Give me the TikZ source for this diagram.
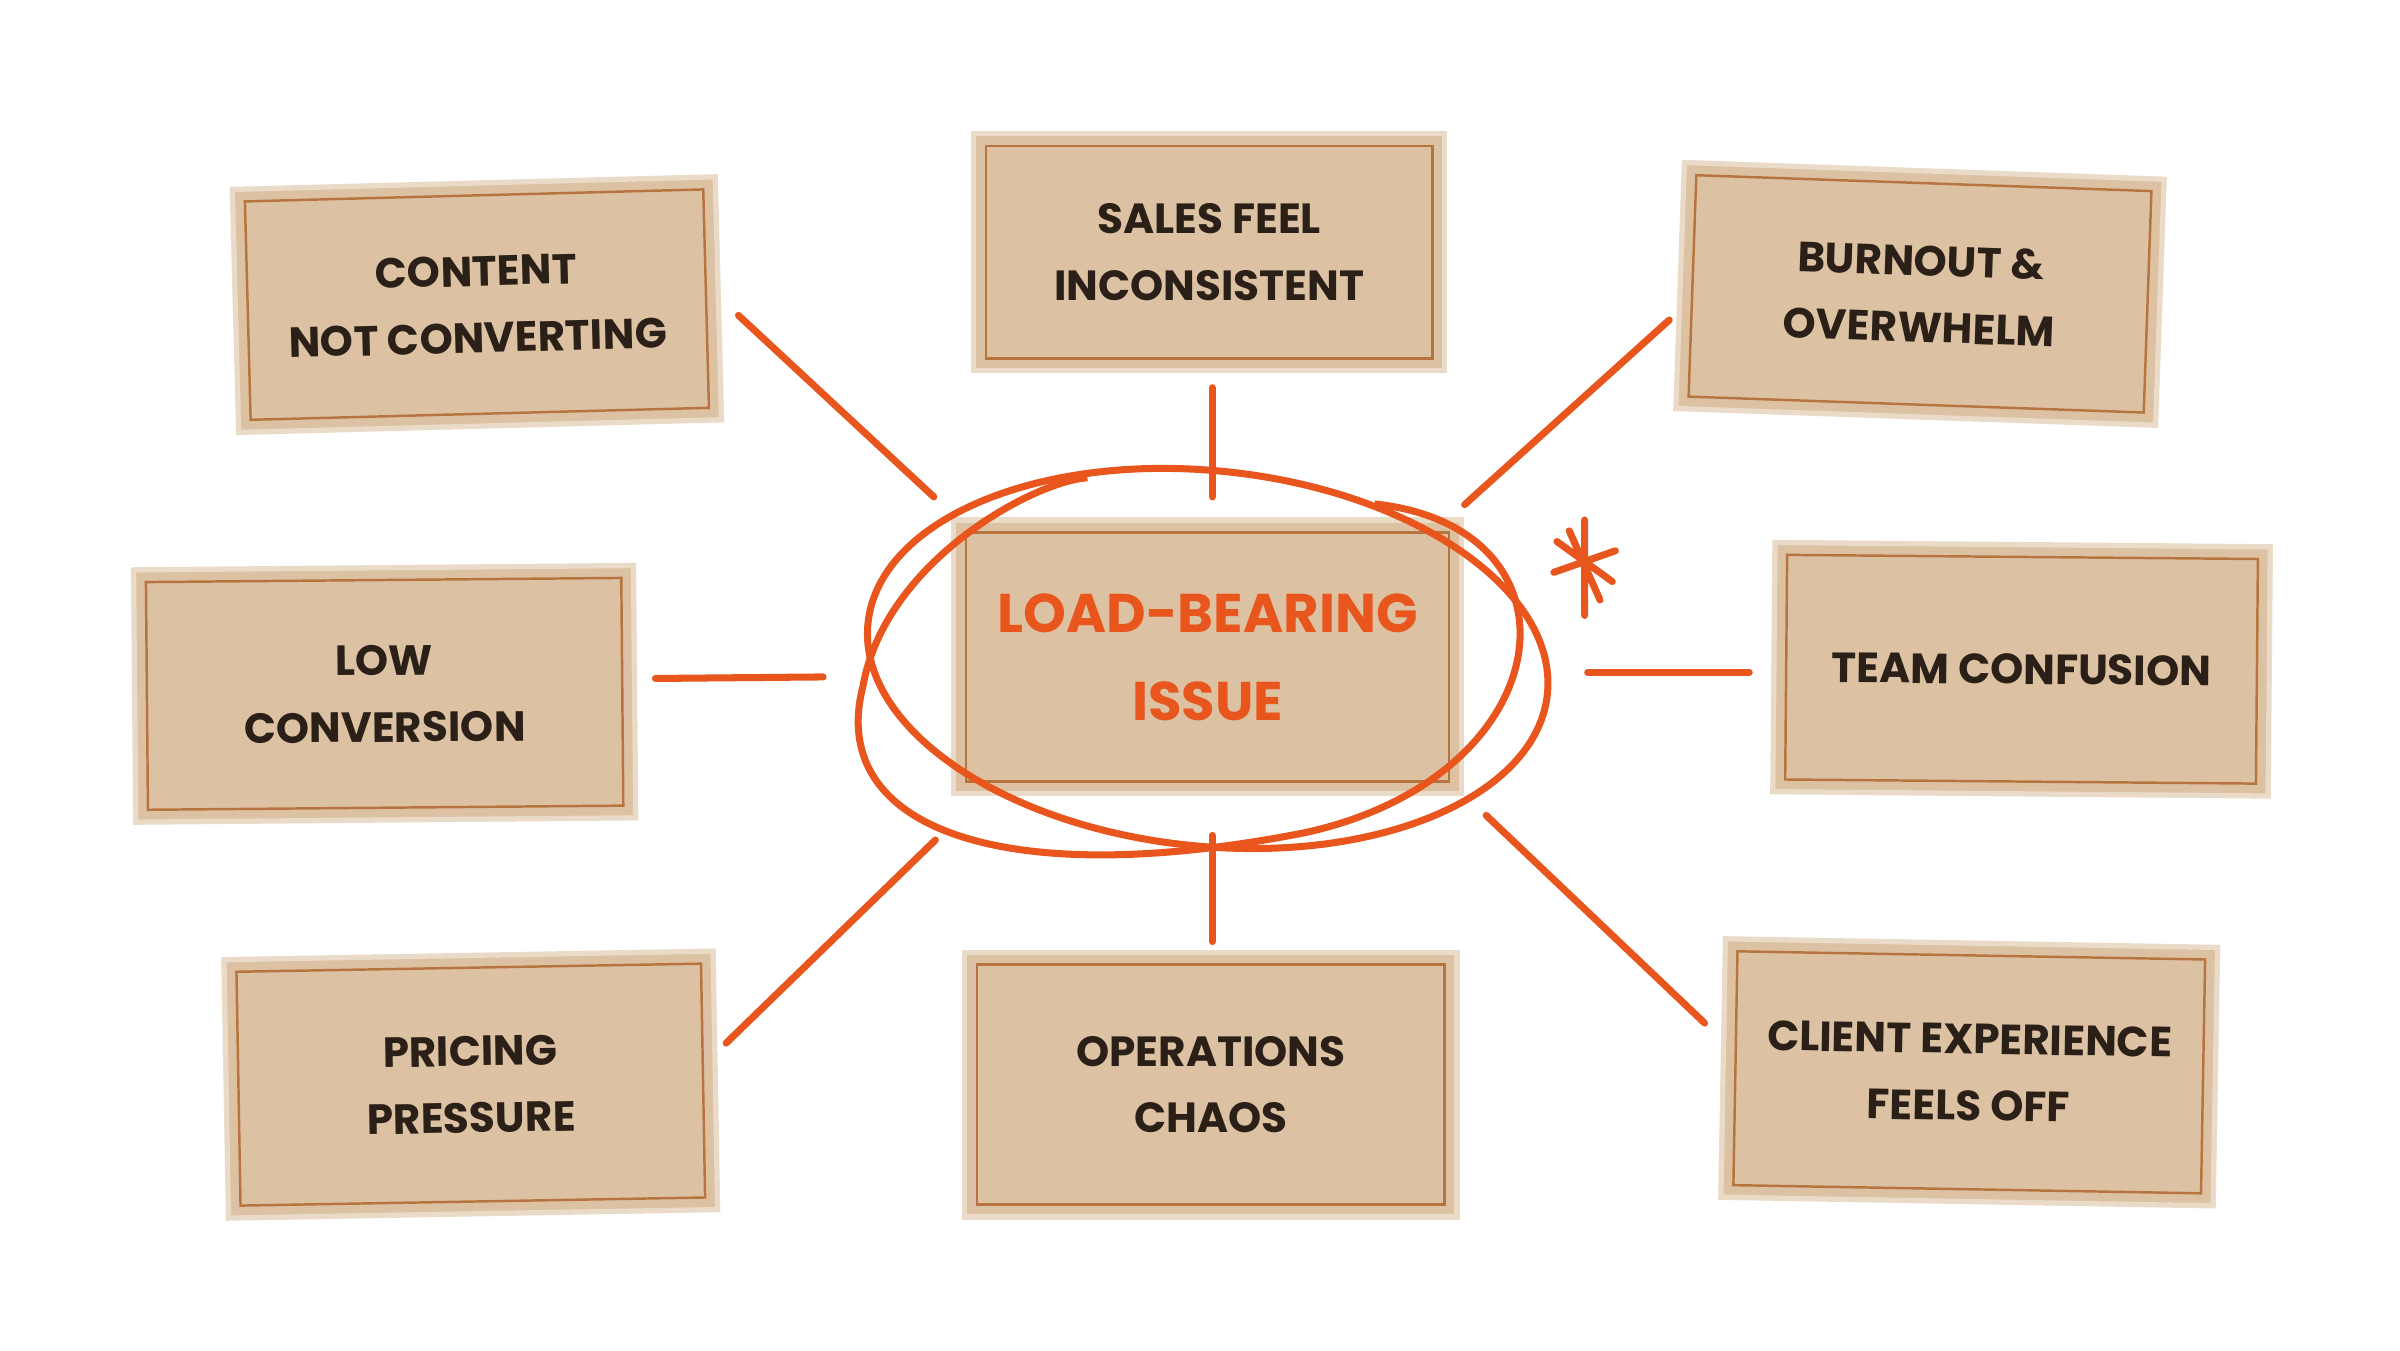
\documentclass[tikz,border=0pt]{standalone}
\usepackage{fontspec}
\setmainfont{Poppins}
\definecolor{card}{HTML}{DCC2A3}
\definecolor{edge}{HTML}{B8743E}
\definecolor{org}{HTML}{E8561E}
\definecolor{ink}{HTML}{2A2018}
\newcommand{\mycard}[7][]{%
 \node[card,minimum width=#4*0.01538cm,minimum height=#5*0.01538cm,rotate=#6,#1] (#2) at #3 {#7};
 \node[inner,minimum width=#4*0.01538cm-7pt,minimum height=#5*0.01538cm-7pt,rotate=#6] at (#2.center) {};}
\begin{document}
\begin{tikzpicture}[x=0.01538cm,y=-0.01538cm]
\tikzset{
 card/.style={draw=card!60!white,line width=1.5pt,fill=card,align=center,inner sep=0pt,
   font=\bfseries\fontsize{12}{19}\selectfont,text=ink},
 inner/.style={draw=edge,line width=0.7pt,inner sep=0pt},
 link/.style={draw=org,line width=2pt,line cap=round}
}
\useasboundingbox (0,0) rectangle (1560,877.5);
\mycard{a}{(310,198)}{314}{158}{1.5}{CONTENT\\NOT CONVERTING}
\mycard{b}{(786,164)}{306}{154}{0}{SALES FEEL\\INCONSISTENT}
\mycard{c}{(1248,191)}{312}{160}{-2}{BURNOUT \&\\OVERWHELM}
\mycard{d}{(250,451)}{325}{164}{0.5}{LOW\\CONVERSION}
\mycard[text=org,font=\bfseries\fontsize{15.5}{25}\selectfont]{e}{(785,427)}{330}{178}{0}{LOAD-BEARING\\ISSUE}
\mycard{f}{(1314,435)}{322}{162}{-0.5}{TEAM CONFUSION}
\mycard{g}{(306,705)}{318}{168}{1}{PRICING\\PRESSURE}
\mycard{h}{(787,705)}{320}{172}{0}{OPERATIONS\\CHAOS}
\mycard{i}{(1280,697)}{320}{168}{-1}{CLIENT EXPERIENCE\\FEELS OFF}
\coordinate (a1) at (480,205); \coordinate (a2) at (607,323);
\coordinate (b1) at (788,252); \coordinate (b2) at (788,323);
\coordinate (c1) at (1085,208); \coordinate (c2) at (952,328);
\coordinate (d1) at (426,441); \coordinate (d2) at (535,440);
\coordinate (f1) at (1032,437); \coordinate (f2) at (1137,437);
\coordinate (g1) at (608,546); \coordinate (g2) at (472,678);
\coordinate (h1) at (788,543); \coordinate (h2) at (788,612);
\coordinate (i1) at (966,530); \coordinate (i2) at (1108,665);
\foreach \p in {a,b,c,d,f,g,h,i} \draw[link] (\p1) -- (\p2);
\draw[org,line width=2pt,rotate around={-6:(785,428)}] (785,428) ellipse (222 and 122);
\draw[org,line width=2pt,rotate around={4:(790,425)}] (900,335) .. controls (1040,360) and (1010,520) .. (840,545)
  .. controls (640,570) and (530,520) .. (560,430) .. controls (580,350) and (680,305) .. (715,305);
\draw[org,line width=2pt,line cap=round] (1012,352)--(1048,378) (1010,372)--(1050,358) (1030,338)--(1030,400) (1020,345)--(1040,390);
\end{tikzpicture}
\end{document}
